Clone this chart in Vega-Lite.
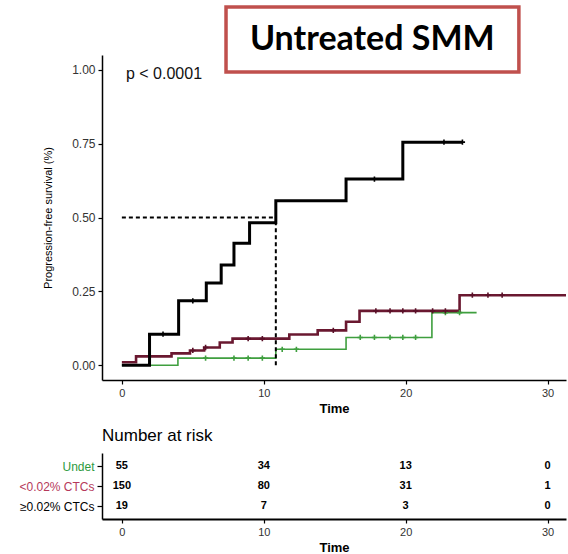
{
  "$schema": "https://vega.github.io/schema/vega-lite/v6.json",
  "padding": {"left": 18, "top": 5, "right": 0, "bottom": 0},
  "spacing": 12,
  "config": {
    "view": {"stroke": null},
    "font": "Liberation Sans",
    "axis": {"grid": false, "domainColor": "#000000", "domainWidth": 1.5, "tickColor": "#000000", "tickWidth": 1.2, "labelColor": "#333333", "titleColor": "#000000", "labelFont": "Liberation Sans", "titleFont": "Liberation Sans"}
  },
  "resolve": {"scale": {"x": "independent", "y": "independent", "color": "independent"}},
  "datasets": {
    "curves": [
      {"group": "Undet", "time": 0, "surv": 0},
      {"group": "Undet", "time": 3.95, "surv": 0.024},
      {"group": "Undet", "time": 10.85, "surv": 0.054},
      {"group": "Undet", "time": 15.8, "surv": 0.094},
      {"group": "Undet", "time": 21.85, "surv": 0.178},
      {"group": "Undet", "time": 25, "surv": 0.178},
      {"group": "<0.02% CTCs", "time": 0, "surv": 0.01},
      {"group": "<0.02% CTCs", "time": 1.0, "surv": 0.03},
      {"group": "<0.02% CTCs", "time": 3.5, "surv": 0.04},
      {"group": "<0.02% CTCs", "time": 4.8, "surv": 0.05},
      {"group": "<0.02% CTCs", "time": 5.8, "surv": 0.06},
      {"group": "<0.02% CTCs", "time": 6.9, "surv": 0.077},
      {"group": "<0.02% CTCs", "time": 7.8, "surv": 0.09},
      {"group": "<0.02% CTCs", "time": 11.8, "surv": 0.104},
      {"group": "<0.02% CTCs", "time": 13.8, "surv": 0.118},
      {"group": "<0.02% CTCs", "time": 15.8, "surv": 0.147},
      {"group": "<0.02% CTCs", "time": 16.75, "surv": 0.184},
      {"group": "<0.02% CTCs", "time": 23.8, "surv": 0.237},
      {"group": "<0.02% CTCs", "time": 31.3, "surv": 0.237},
      {"group": "≥0.02% CTCs", "time": 0, "surv": 0},
      {"group": "≥0.02% CTCs", "time": 1.95, "surv": 0.105},
      {"group": "≥0.02% CTCs", "time": 4.0, "surv": 0.218},
      {"group": "≥0.02% CTCs", "time": 5.95, "surv": 0.278},
      {"group": "≥0.02% CTCs", "time": 7.0, "surv": 0.339},
      {"group": "≥0.02% CTCs", "time": 7.9, "surv": 0.413},
      {"group": "≥0.02% CTCs", "time": 9.0, "surv": 0.482},
      {"group": "≥0.02% CTCs", "time": 10.85, "surv": 0.557},
      {"group": "≥0.02% CTCs", "time": 15.8, "surv": 0.63},
      {"group": "≥0.02% CTCs", "time": 19.8, "surv": 0.755},
      {"group": "≥0.02% CTCs", "time": 24, "surv": 0.755}
    ],
    "censor": [
      {"group": "Undet", "time": 5.9, "surv": 0.024},
      {"group": "Undet", "time": 7.9, "surv": 0.024},
      {"group": "Undet", "time": 8.9, "surv": 0.024},
      {"group": "Undet", "time": 9.9, "surv": 0.024},
      {"group": "Undet", "time": 11.3, "surv": 0.054},
      {"group": "Undet", "time": 12.3, "surv": 0.054},
      {"group": "Undet", "time": 16.8, "surv": 0.094},
      {"group": "Undet", "time": 17.8, "surv": 0.094},
      {"group": "Undet", "time": 18.9, "surv": 0.094},
      {"group": "Undet", "time": 19.8, "surv": 0.094},
      {"group": "Undet", "time": 20.7, "surv": 0.094},
      {"group": "Undet", "time": 22.8, "surv": 0.178},
      {"group": "Undet", "time": 23.8, "surv": 0.178},
      {"group": "<0.02% CTCs", "time": 5.0, "surv": 0.05},
      {"group": "<0.02% CTCs", "time": 5.9, "surv": 0.06},
      {"group": "<0.02% CTCs", "time": 8.9, "surv": 0.09},
      {"group": "<0.02% CTCs", "time": 9.9, "surv": 0.09},
      {"group": "<0.02% CTCs", "time": 14.9, "surv": 0.118},
      {"group": "<0.02% CTCs", "time": 17.9, "surv": 0.184},
      {"group": "<0.02% CTCs", "time": 18.9, "surv": 0.184},
      {"group": "<0.02% CTCs", "time": 19.8, "surv": 0.184},
      {"group": "<0.02% CTCs", "time": 20.7, "surv": 0.184},
      {"group": "<0.02% CTCs", "time": 21.9, "surv": 0.184},
      {"group": "<0.02% CTCs", "time": 22.8, "surv": 0.184},
      {"group": "<0.02% CTCs", "time": 24.7, "surv": 0.237},
      {"group": "<0.02% CTCs", "time": 25.8, "surv": 0.237},
      {"group": "<0.02% CTCs", "time": 26.8, "surv": 0.237},
      {"group": "≥0.02% CTCs", "time": 2.9, "surv": 0.105},
      {"group": "≥0.02% CTCs", "time": 5.0, "surv": 0.218},
      {"group": "≥0.02% CTCs", "time": 17.8, "surv": 0.63},
      {"group": "≥0.02% CTCs", "time": 22.7, "surv": 0.755},
      {"group": "≥0.02% CTCs", "time": 24, "surv": 0.755}
    ],
    "median": [
      {"x": 0, "x2": 10.85, "y": 0.5, "y2": 0.5},
      {"x": 10.85, "x2": 10.85, "y": 0, "y2": 0.5}
    ],
    "risk": [
      {"group": "Undet", "time": 0, "n": 55},
      {"group": "Undet", "time": 10, "n": 34},
      {"group": "Undet", "time": 20, "n": 13},
      {"group": "Undet", "time": 30, "n": 0},
      {"group": "<0.02% CTCs", "time": 0, "n": 150},
      {"group": "<0.02% CTCs", "time": 10, "n": 80},
      {"group": "<0.02% CTCs", "time": 20, "n": 31},
      {"group": "<0.02% CTCs", "time": 30, "n": 1},
      {"group": "≥0.02% CTCs", "time": 0, "n": 19},
      {"group": "≥0.02% CTCs", "time": 10, "n": 7},
      {"group": "≥0.02% CTCs", "time": 20, "n": 3},
      {"group": "≥0.02% CTCs", "time": 30, "n": 0}
    ]
  },
  "vconcat": [
    {
      "width": 464,
      "height": 325,
      "layer": [
        {
          "data": {"name": "curves"},
          "transform": [{"filter": "datum.group === 'Undet'"}],
          "mark": {"type": "line", "interpolate": "step-after", "color": "#3f9f3f", "strokeWidth": 1.6},
          "encoding": {
            "x": {"field": "time", "type": "quantitative", "scale": {"domain": [-1.4, 31.3], "nice": false, "zero": false},
              "axis": {"values": [0, 10, 20, 30], "title": "Time", "labelFontSize": 11, "titleFontSize": 13, "titleFontWeight": "bold", "tickSize": 4, "labelPadding": 3, "titlePadding": 4, "labelFlush": false}},
            "y": {"field": "surv", "type": "quantitative", "scale": {"domain": [-0.05, 1.05], "nice": false, "zero": false},
              "axis": {"values": [0, 0.25, 0.5, 0.75, 1], "format": ".2f", "title": "Progression-free survival (%)", "titleFontSize": 11, "titleFontWeight": "normal", "titlePadding": 18, "labelFontSize": 12, "tickSize": 4, "labelPadding": 3, "labelFlush": false}}
          }
        },
        {
          "data": {"name": "curves"},
          "transform": [{"filter": "datum.group === '<0.02% CTCs'"}],
          "mark": {"type": "line", "interpolate": "step-after", "color": "#6a1830", "strokeWidth": 2.6},
          "encoding": {
            "x": {"field": "time", "type": "quantitative"},
            "y": {"field": "surv", "type": "quantitative"}
          }
        },
        {
          "data": {"name": "curves"},
          "transform": [{"filter": "datum.group === '≥0.02% CTCs'"}],
          "mark": {"type": "line", "interpolate": "step-after", "color": "#000000", "strokeWidth": 3},
          "encoding": {
            "x": {"field": "time", "type": "quantitative"},
            "y": {"field": "surv", "type": "quantitative"}
          }
        },
        {
          "data": {"name": "censor"},
          "mark": {"type": "point", "shape": "M-1,0L1,0M0,-1L0,1", "size": 28, "strokeWidth": 1.6, "filled": false, "opacity": 1},
          "encoding": {
            "x": {"field": "time", "type": "quantitative"},
            "y": {"field": "surv", "type": "quantitative"},
            "color": {"field": "group", "type": "nominal", "scale": {"domain": ["Undet", "<0.02% CTCs", "≥0.02% CTCs"], "range": ["#3f9f3f", "#5a1028", "#000000"]}, "legend": null}
          }
        },
        {
          "data": {"name": "median"},
          "mark": {"type": "rule", "strokeDash": [4, 3], "strokeWidth": 2, "color": "#000000"},
          "encoding": {
            "x": {"field": "x", "type": "quantitative"},
            "x2": {"field": "x2"},
            "y": {"field": "y", "type": "quantitative"},
            "y2": {"field": "y2"}
          }
        },
        {
          "data": {"values": [{"label": "p < 0.0001"}]},
          "mark": {"type": "text", "align": "left", "baseline": "middle", "fontSize": 16, "color": "#111111", "clip": false},
          "encoding": {
            "x": {"datum": 0.29, "type": "quantitative"},
            "y": {"datum": 0.985, "type": "quantitative"},
            "text": {"field": "label", "type": "nominal"}
          }
        },
        {
          "data": {"values": [{"label": "Untreated SMM"}]},
          "mark": {"type": "rect", "fill": "#ffffff", "stroke": "#c0504d", "strokeWidth": 3.5, "clip": false},
          "encoding": {
            "x": {"datum": 7.34, "type": "quantitative"},
            "x2": {"datum": 27.98},
            "y": {"datum": 1.2125, "type": "quantitative"},
            "y2": {"datum": 0.9925}
          }
        },
        {
          "data": {"values": [{"label": "Untreated SMM"}]},
          "mark": {"type": "text", "align": "center", "baseline": "middle", "font": "Lato", "fontWeight": "bold", "fontSize": 34, "color": "#000000", "clip": false},
          "encoding": {
            "x": {"datum": 17.65, "type": "quantitative"},
            "y": {"datum": 1.1, "type": "quantitative"},
            "text": {"field": "label", "type": "nominal"}
          }
        }
      ]
    },
    {
      "width": 464,
      "height": 66,
      "title": {"text": "Number at risk", "anchor": "start", "frame": "group", "fontSize": 17, "fontWeight": "normal", "offset": 8, "font": "Liberation Sans", "color": "#000000"},
      "data": {"name": "risk"},
      "mark": {"type": "text", "fontSize": 11, "fontWeight": "bold", "color": "#000000"},
      "encoding": {
        "x": {"field": "time", "type": "quantitative", "scale": {"domain": [-1.4, 31.3], "nice": false, "zero": false},
          "axis": {"values": [0, 10, 20, 30], "title": "Time", "labelFontSize": 11, "titleFontSize": 13, "titleFontWeight": "bold", "tickSize": 4, "labelPadding": 3, "titlePadding": 4, "labelFlush": false, "domainWidth": 2}},
        "y": {"field": "group", "type": "nominal", "scale": {"type": "point", "domain": ["Undet", "<0.02% CTCs", "≥0.02% CTCs"], "padding": 0.65},
          "axis": {"title": null, "labelFontSize": 12, "tickSize": 5, "labelPadding": 3,
            "labelColor": {"condition": [{"test": "datum.value === 'Undet'", "value": "#2e9a3e"}, {"test": "datum.value === '<0.02% CTCs'", "value": "#b5395a"}], "value": "#000000"}}},
        "text": {"field": "n", "type": "quantitative"}
      }
    }
  ]
}
